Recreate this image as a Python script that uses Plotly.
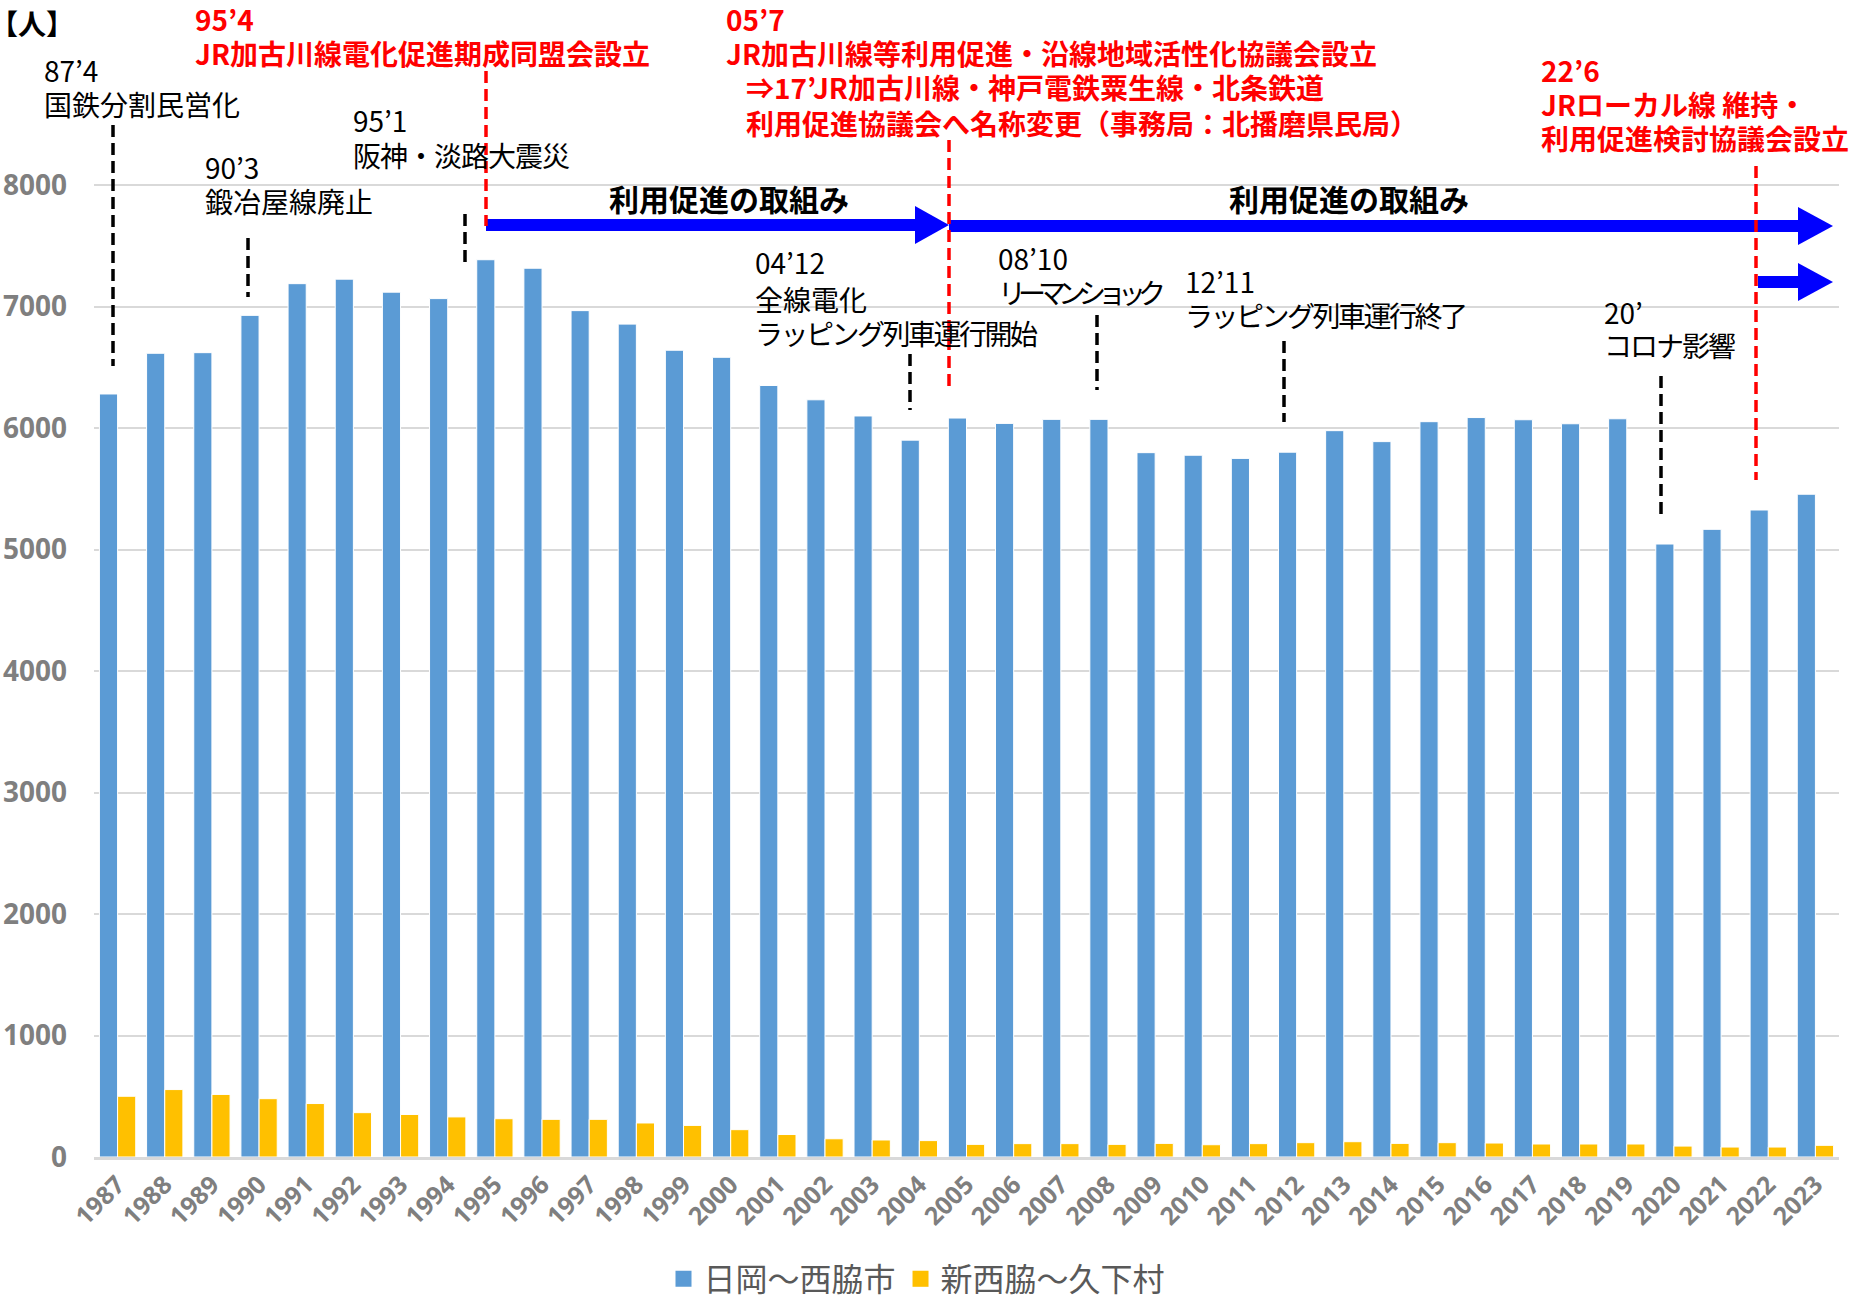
import plotly.graph_objects as go

# ---------------- data ----------------
years = [str(y) for y in range(1987, 2024)]
hioka_nishiwaki = [6280, 6615, 6620, 6927, 7188, 7225, 7118, 7065, 7385, 7315,
                   6966, 6855, 6640, 6582, 6350, 6232, 6099, 5900, 6082, 6038,
                   6071, 6071, 5797, 5776, 5750, 5801, 5978, 5888, 6052, 6086,
                   6068, 6035, 6076, 5045, 5166, 5325, 5455]
shinnishiwaki_kuge = [500, 555, 515, 480, 440, 365, 350, 330, 315, 310,
                      310, 280, 260, 225, 185, 150, 140, 135, 104, 110,
                      110, 104, 112, 101, 110, 118, 126, 112, 118, 115,
                      107, 107, 107, 90, 82, 82, 96]
series_names = ["日岡～西脇市", "新西脇～久下村"]
series_colors = ["#5b9bd5", "#ffc000"]
y_ticks = [0, 1000, 2000, 3000, 4000, 5000, 6000, 7000, 8000]

# ---------------- layout geometry ----------------
W, H = 1864, 1298
ML, MR, MT = 94, 25, 0
MB = H - 1157
PW, PH = W - ML - MR, H - MT - MB
PX_PER_UNIT = (1157 - 185) / 8000.0
Y_MAX = PH / PX_PER_UNIT

def fx(x):
    """pixel x -> paper x"""
    return (x - ML) / PW

def fy(y):
    """pixel y -> paper y"""
    return (PH - (y - MT)) / PH

JP = "Noto Sans CJK JP"
BLACK = "#000000"
RED = "#ff0000"
BLUE_ARROW = "#0000ff"

fig = go.Figure()
fig.add_trace(go.Bar(x=years, y=hioka_nishiwaki, name=series_names[0], showlegend=False,
                     marker=dict(color=series_colors[0], line=dict(color="#ffffff", width=1))))
fig.add_trace(go.Bar(x=years, y=shinnishiwaki_kuge, name=series_names[1], showlegend=False,
                     marker=dict(color=series_colors[1], line=dict(color="#ffffff", width=1))))
# legend entries with larger square symbols
for nm, col in zip(series_names, series_colors):
    fig.add_trace(go.Scatter(x=[None], y=[None], mode="markers", name=nm,
                             marker=dict(symbol="square", size=20, color=col)))

shapes = []
annotations = []

def text(s, x, y, size=28, color=BLACK, bold=False, xanchor="left", ls=None):
    if ls is not None:
        s = '<span style="letter-spacing:%spx">%s</span>' % (ls, s)
    annotations.append(dict(
        text=("<b>%s</b>" % s) if bold else s,
        x=fx(x - (3 if xanchor == "left" else 0)), y=fy(y - 1.5), xref="paper", yref="paper",
        xanchor=xanchor, yanchor="middle", showarrow=False,
        font=dict(family=JP, size=size, color=color)))

def vdash(x, y0, y1, color):
    shapes.append(dict(type="line", xref="paper", yref="paper",
                       x0=fx(x), x1=fx(x), y0=fy(y0), y1=fy(y1),
                       line=dict(color=color, width=3.5, dash="12px,6px")))

def arrow(x0, xh, x1, yc, shaft=12, head=38):
    shapes.append(dict(type="rect", xref="paper", yref="paper",
                       x0=fx(x0), x1=fx(xh), y0=fy(yc - shaft / 2), y1=fy(yc + shaft / 2),
                       fillcolor=BLUE_ARROW, line=dict(width=0)))
    path = "M %f %f L %f %f L %f %f Z" % (fx(xh), fy(yc - head / 2), fx(x1), fy(yc),
                                         fx(xh), fy(yc + head / 2))
    shapes.append(dict(type="path", xref="paper", yref="paper", path=path,
                       fillcolor=BLUE_ARROW, line=dict(width=0)))

# unit label
text("【人】", -9, 25, size=28, bold=True)

# black event notes
text("87’4", 45, 71); text("国鉄分割民営化", 45, 106)
text("90’3", 206, 169); text("鍛冶屋線廃止", 206, 203)
text("95’1", 354, 121); text("阪神・淡路大震災", 354, 156, ls=-1)
text("04’12", 756, 264); text("全線電化", 756, 300); text("ラッピング列車運行開始", 756, 334, ls=-2.5)
text("08’10", 999, 259); text("リーマンショック", 999, 294, ls=-8)
text("12’11", 1186, 283); text("ラッピング列車運行終了", 1186, 317, ls=-2.5)
text("20’", 1605, 313); text("コロナ影響", 1605, 347, ls=-2)

# red notes
text("95’4", 196, 20, color=RED, bold=True)
text("JR加古川線電化促進期成同盟会設立", 196, 55, color=RED, bold=True)
text("05’7", 727, 20, color=RED, bold=True)
text("JR加古川線等利用促進・沿線地域活性化協議会設立", 727, 55, color=RED, bold=True)
text("⇒17’JR加古川線・神戸電鉄粟生線・北条鉄道", 747, 89, color=RED, bold=True)
text("利用促進協議会へ名称変更（事務局：北播磨県民局）", 747, 124, color=RED, bold=True)
text("22’6", 1542, 71, color=RED, bold=True)
text("JRローカル線 維持・", 1542, 106, color=RED, bold=True)
text("利用促進検討協議会設立", 1542, 140, color=RED, bold=True)

# arrows labels
text("利用促進の取組み", 729, 199, size=30, bold=True, xanchor="center")
text("利用促進の取組み", 1349, 199, size=30, bold=True, xanchor="center")

# source note (cut off at the bottom edge, as in the original)
annotations.append(dict(text="<b>【出典】</b>", x=fx(1695), y=fy(1291), xref="paper", yref="paper",
                        xanchor="left", yanchor="top", showarrow=False,
                        font=dict(family=JP, size=26, color=BLACK)))

# dashed markers
vdash(113, 125, 366, BLACK)
vdash(248, 238, 297, BLACK)
vdash(465, 214, 264, BLACK)
vdash(910, 354, 410, BLACK)
vdash(1097, 315, 390, BLACK)
vdash(1284, 341, 422, BLACK)
vdash(1661, 376, 515, BLACK)

# arrows
arrow(486, 915, 949, 225)
arrow(949, 1798, 1833, 226)
arrow(1758, 1798, 1833, 282)

vdash(486, 71, 226, RED)
vdash(949, 140, 388, RED)
vdash(1756, 166, 480, RED)

fig.update_layout(
    width=W, height=H,
    margin=dict(l=ML, r=MR, t=MT, b=MB, autoexpand=False),
    paper_bgcolor="white", plot_bgcolor="white",
    barmode="group", bargap=0.23, bargroupgap=0.0,
    shapes=shapes, annotations=annotations,
    legend=dict(orientation="h", x=fx(917), xanchor="center", y=fy(1279), yanchor="middle",
                font=dict(family=JP, size=32, color="#595959"), itemwidth=30),
    xaxis=dict(type="category", tickangle=-45, showgrid=False, showline=True, automargin=False,
               linecolor="#d9d9d9", linewidth=3, ticks="",
               tickfont=dict(family="Noto Sans", size=25, color="#7f7f7f", weight="bold")),
    yaxis=dict(range=[0, Y_MAX], tickvals=y_ticks, showgrid=True, gridcolor="#d9d9d9",
               gridwidth=2, zeroline=False, showline=False, ticklabelstandoff=26, automargin=False,
               tickfont=dict(family="Noto Sans", size=28, color="#7f7f7f", weight="bold")),
)

fig.write_html("out.html", config={"displayModeBar": False},
               post_script="document.body.style.margin='0px';")
